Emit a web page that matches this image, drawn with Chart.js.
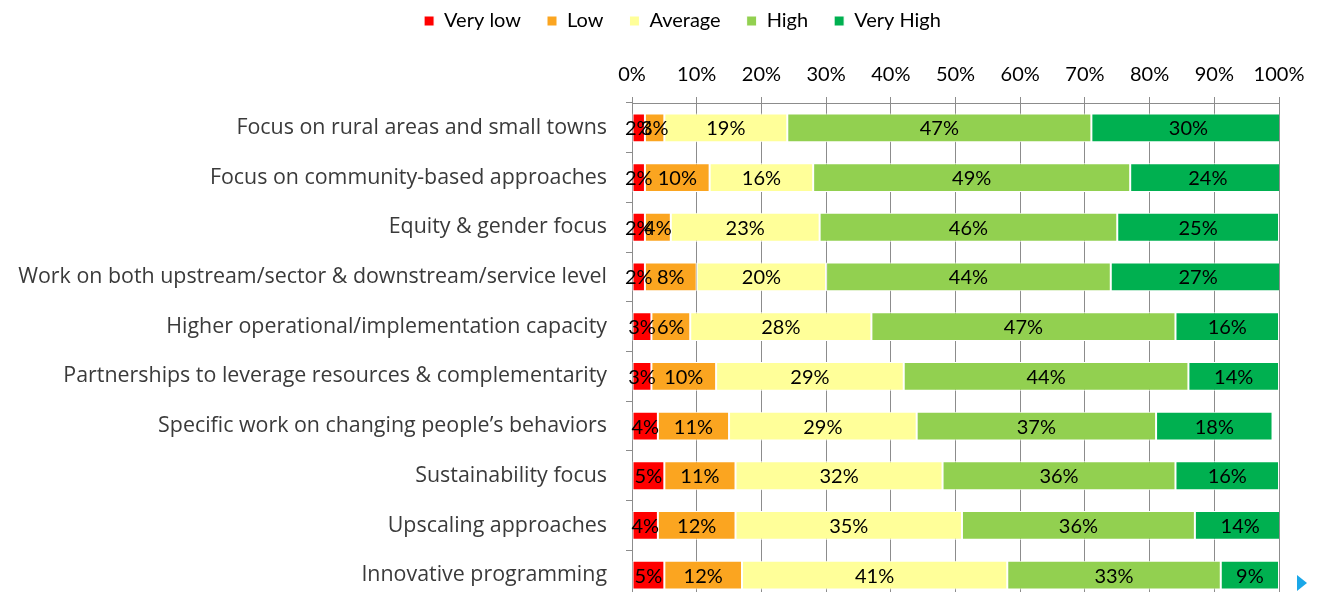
<!DOCTYPE html>
<html>
<head>
<meta charset="utf-8">
<title>Programme focus ratings</title>
<script src="https://cdn.jsdelivr.net/npm/chart.js@4.4.1/dist/chart.umd.min.js"></script>
<style>
  html, body { margin: 0; padding: 0; background: #fff; overflow: hidden; }
  #wrap { position: relative; width: 1320px; height: 592px; overflow: hidden; }
  #chart { position: absolute; left: 0; top: -15px; }
</style>
</head>
<body>
<div id="wrap"><canvas id="chart" width="1320" height="615"></canvas></div>
<script>
// categories, top to bottom
const categories = [
    'Focus on rural areas and small towns',
    'Focus on community-based approaches',
    'Equity & gender focus',
    'Work on both upstream/sector & downstream/service level',
    'Higher operational/implementation capacity',
    'Partnerships to leverage resources & complementarity',
    'Specific work on changing people\u2019s behaviors',
    'Sustainability focus',
    'Upscaling approaches',
    'Innovative programming'
];

// share of answers per rating (%)
const veryLow  = [2, 2, 2, 2, 3, 3, 4, 5, 4, 5];
const low      = [3, 10, 4, 8, 6, 10, 11, 11, 12, 12];
const average  = [19, 16, 23, 20, 28, 29, 29, 32, 35, 41];
const high     = [47, 49, 46, 44, 47, 44, 37, 36, 36, 33];
const veryHigh = [30, 24, 25, 27, 16, 14, 18, 16, 14, 9];

const seriesNames = ['Very low', 'Low', 'Average', 'High', 'Very High'];
const seriesColors = ['#FF0000', '#FBA520', '#FFFF99', '#92D050', '#00B050'];
const xTicks = [0, 10, 20, 30, 40, 50, 60, 70, 80, 90, 100];

const numFont = "Lato, 'Open Sans', sans-serif";
const catFont = "'Open Sans', 'Liberation Sans', sans-serif";

// where the plot starts, in canvas pixels
const PLOT_TOP = 118;
const PLOT_LEFT = 632;
// legend sits a bit right of the canvas centre
const LEGEND_SHIFT = 43;

// percentage text centred on each segment
const barLabels = {
    id: 'barLabels',
    afterDatasetsDraw(chart) {
        const ctx = chart.ctx;
        ctx.save();
        ctx.font = '20px ' + numFont;
        ctx.fillStyle = '#000';
        ctx.textAlign = 'center';
        ctx.textBaseline = 'middle';
        chart.data.datasets.forEach((ds, i) => {
            chart.getDatasetMeta(i).data.forEach((bar, j) => {
                const cx = (bar.x + bar.base) / 2;
                ctx.fillText(ds.data[j] + '%', cx, bar.y + 1);
            });
        });
        ctx.restore();
    }
};

// move the legend box sideways once the layout is done
const legendShift = {
    id: 'legendShift',
    afterLayout(chart) {
        if (chart.legend) {
            chart.legend.left += LEGEND_SHIFT;
            chart.legend.right += LEGEND_SHIFT;
        }
    }
};

// small navigation arrow in the corner
const cornerArrow = {
    id: 'cornerArrow',
    afterDraw(chart) {
        const ctx = chart.ctx;
        ctx.save();
        ctx.fillStyle = '#1AA7E8';
        ctx.beginPath();
        ctx.moveTo(1297, 590);
        ctx.lineTo(1307, 598);
        ctx.lineTo(1297, 606);
        ctx.closePath();
        ctx.fill();
        ctx.restore();
    }
};

const datasets = [veryLow, low, average, high, veryHigh].map((values, i) => ({
    label: seriesNames[i],
    data: values,
    backgroundColor: seriesColors[i],
    borderColor: '#FFFFFF',
    borderWidth: 1,
    borderSkipped: false,
    barPercentage: 0.58,
    categoryPercentage: 1.0
}));

new Chart(document.getElementById('chart'), {
    type: 'bar',
    data: { labels: categories, datasets: datasets },
    plugins: [barLabels, legendShift, cornerArrow],
    options: {
        responsive: false,
        animation: false,
        indexAxis: 'y',
        layout: { padding: { left: 0, right: 41, top: 0, bottom: 0 } },
        plugins: {
            legend: {
                position: 'top',
                align: 'center',
                labels: {
                    boxWidth: 10,
                    boxHeight: 10,
                    padding: 26,
                    color: '#000',
                    font: { family: numFont, size: 20 }
                }
            },
            tooltip: { enabled: false }
        },
        scales: {
            x: {
                position: 'top',
                stacked: true,
                min: 0,
                max: 100,
                afterBuildTicks: s => { s.ticks = xTicks.map(v => ({ value: v })); },
                afterFit: s => {
                    s.height = PLOT_TOP - (s.chart.legend ? s.chart.legend.height : 0);
                    s.paddingLeft = 0;
                    s.paddingRight = 0;
                },
                ticks: {
                    color: '#000',
                    padding: 10,
                    font: { family: numFont, size: 20 },
                    callback: v => v + '%'
                },
                grid: { color: '#8C8C8C', lineWidth: 1, tickLength: 6, drawOnChartArea: true },
                border: { display: true, color: '#8C8C8C', width: 1 }
            },
            y: {
                stacked: true,
                afterFit: s => {
                    s.width = PLOT_LEFT;
                    s.paddingTop = 0;
                    s.paddingBottom = 0;
                },
                ticks: {
                    color: '#3A3A3A',
                    padding: 19,
                    font: { family: catFont, size: 21.4 }
                },
                grid: { offset: true, drawOnChartArea: false, tickLength: 6, color: '#8C8C8C' },
                border: { display: true, color: '#8C8C8C', width: 1 }
            }
        }
    }
});
</script>
</body>
</html>
